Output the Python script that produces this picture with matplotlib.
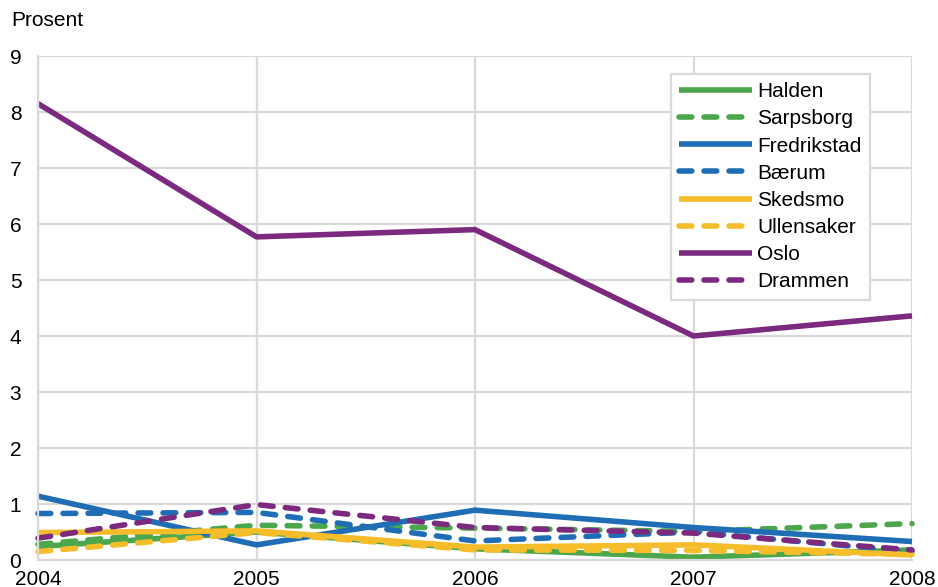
import matplotlib.pyplot as plt

plt.rcParams["font.family"] = ["Liberation Sans", "DejaVu Sans"]

years = [2004, 2005, 2006, 2007, 2008]

halden = [0.24, 0.50, 0.20, 0.05, 0.18]
sarpsborg = [0.28, 0.62, 0.57, 0.51, 0.65]
fredrikstad = [1.14, 0.27, 0.89, 0.58, 0.33]
baerum = [0.83, 0.85, 0.34, 0.50, 0.15]
skedsmo = [0.49, 0.52, 0.23, 0.27, 0.09]
ullensaker = [0.15, 0.49, 0.18, 0.17, 0.10]
oslo = [8.15, 5.77, 5.90, 4.00, 4.36]
drammen = [0.39, 0.99, 0.58, 0.48, 0.18]

green = "#4ca64c"
blue = "#1f6eb5"
yellow = "#f5bd2a"
purple = "#7b2a7f"

series = [
    ("Halden", halden, green, "-"),
    ("Sarpsborg", sarpsborg, green, "--"),
    ("Fredrikstad", fredrikstad, blue, "-"),
    ("Bærum", baerum, blue, "--"),
    ("Skedsmo", skedsmo, yellow, "-"),
    ("Ullensaker", ullensaker, yellow, "--"),
    ("Oslo", oslo, purple, "-"),
    ("Drammen", drammen, purple, "--"),
]

fig = plt.figure(figsize=(9.38, 5.87), dpi=100)
ax = fig.add_axes([38 / 938, 27 / 587, 874 / 938, 504 / 587])

for name, vals, col, ls in series:
    line, = ax.plot(years, vals, color=col, lw=4.0, label=name,
                    solid_capstyle="butt", dash_capstyle="round", clip_on=False)
    if ls == "--":
        line.set_dashes((2.3, 2.2))

ax.set_xlim(2004, 2008)
ax.set_ylim(0, 9)
ax.set_xticks(years)
ax.set_yticks(range(0, 10))
ax.grid(True, color="#d9d9d9", lw=1.6)
ax.set_axisbelow(True)
ax.tick_params(length=0, labelsize=15)
ax.tick_params(axis="y", pad=12)
ax.tick_params(axis="x", pad=7)
for s in ["top", "right"]:
    ax.spines[s].set_visible(False)
for s in ["left", "bottom"]:
    ax.spines[s].set_color("#d9d9d9")
    ax.spines[s].set_linewidth(1.6)

fig.text(11 / 938, 1 - 21 / 587, "Prosent", fontsize=15, va="center", ha="left")

leg = ax.legend(loc="upper right", bbox_to_anchor=(870 / 938, 1 - 74 / 587),
                bbox_transform=fig.transFigure, fontsize=15, handlelength=3.5,
                labelspacing=0.39, borderpad=0.4, handletextpad=0.25,
                borderaxespad=0, fancybox=False, framealpha=1)
leg.get_frame().set_edgecolor("#d9d9d9")
leg.get_frame().set_linewidth(1.6)

fig.savefig("out.png", dpi=100)
